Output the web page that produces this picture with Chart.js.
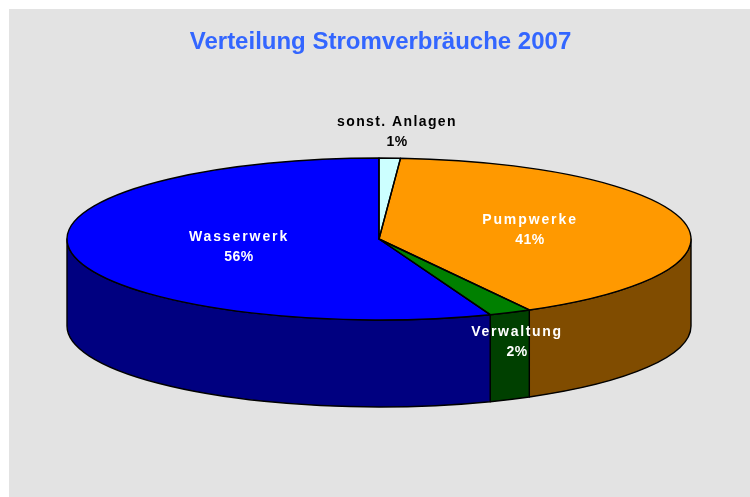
<!DOCTYPE html>
<html>
<head>
<meta charset="utf-8">
<style>html,body{margin:0;padding:0;background:#fff}canvas{display:block}</style>
<script src="https://cdn.jsdelivr.net/npm/chart.js@4"></script>
</head>
<body>
<canvas id="c" width="750" height="497"></canvas>
<script>
const categories = ['sonst. Anlagen', 'Pumpwerke', 'Verwaltung', 'Wasserwerk'];
const shares = [1.1, 40.9, 2.2, 55.8];
const topColors = ['#CCFFFF', '#FF9900', '#008000', '#0000FF'];
const sideColors = ['#668080', '#804C00', '#004000', '#000080'];
const labelColors = ['#000000', '#FFFFFF', '#FFFFFF', '#FFFFFF'];
const labelSpacing = ['1.4px', '1.9px', '1.7px', '1.9px'];
const labelAnchors = [[397, 122], [530, 220], [517, 332], [239, 237]];
const titleText = 'Verteilung Stromverbräuche 2007';

const CX = 379, CY = 239, RX = 312, RY = 81, DEPTH = 87;

const pie3d = {
  id: 'pie3d',
  beforeDraw(chart) {
    const ctx = chart.ctx;
    ctx.save();
    ctx.fillStyle = '#E3E3E3';
    ctx.fillRect(9, 9, chart.width - 9, chart.height - 9);
    ctx.restore();
  },
  beforeDatasetsDraw(chart) {
    const ctx = chart.ctx;
    const arcs = chart.getDatasetMeta(0).data;
    ctx.save();
    ctx.lineWidth = 1.4;
    ctx.strokeStyle = '#000';
    ctx.lineJoin = 'round';
    arcs.forEach((arc, i) => {
      const p = arc.getProps(['startAngle', 'endAngle'], true);
      const a0 = Math.max(p.startAngle, 0), a1 = Math.min(p.endAngle, Math.PI);
      if (a1 <= a0) return;
      ctx.beginPath();
      ctx.ellipse(CX, CY, RX, RY, 0, a0, a1);
      ctx.ellipse(CX, CY + DEPTH, RX, RY, 0, a1, a0, true);
      ctx.closePath();
      ctx.fillStyle = sideColors[i];
      ctx.fill();
      ctx.stroke();
    });
    ctx.restore();
    const first = arcs[0].getProps(['x', 'y', 'outerRadius'], true);
    ctx.save();
    ctx.translate(CX, CY);
    ctx.scale(RX / first.outerRadius, RY / first.outerRadius);
    ctx.translate(-first.x, -first.y);
  },
  afterDatasetsDraw(chart) {
    const ctx = chart.ctx;
    const arcs = chart.getDatasetMeta(0).data;
    ctx.restore();
    ctx.save();
    ctx.lineWidth = 1.4;
    ctx.strokeStyle = '#000';
    ctx.lineJoin = 'round';
    arcs.forEach((arc) => {
      const p = arc.getProps(['startAngle', 'endAngle'], true);
      ctx.beginPath();
      ctx.moveTo(CX, CY);
      ctx.ellipse(CX, CY, RX, RY, 0, p.startAngle, p.endAngle);
      ctx.closePath();
      ctx.stroke();
    });
    ctx.font = 'bold 14px "Liberation Sans", Arial, sans-serif';
    ctx.textAlign = 'center';
    ctx.textBaseline = 'middle';
    categories.forEach((name, i) => {
      ctx.fillStyle = labelColors[i];
      ctx.letterSpacing = labelSpacing[i];
      ctx.fillText(name, labelAnchors[i][0], labelAnchors[i][1]);
      ctx.letterSpacing = '0.5px';
      ctx.fillText(Math.round(shares[i]) + '%', labelAnchors[i][0], labelAnchors[i][1] + 20.5);
    });
    ctx.restore();
  }
};

new Chart(document.getElementById('c'), {
  type: 'pie',
  data: {
    labels: categories,
    datasets: [{
      data: shares,
      backgroundColor: topColors,
      borderWidth: 0,
      clip: false
    }]
  },
  options: {
    responsive: false,
    animation: false,
    rotation: 0,
    layout: { padding: { left: 11, top: 14, right: 0, bottom: 0 } },
    plugins: {
      legend: { display: false },
      tooltip: { enabled: false },
      title: {
        display: true,
        text: titleText,
        color: '#3366FF',
        font: { family: '"Liberation Sans", Arial, sans-serif', size: 24, weight: 'bold' },
        padding: { top: 14, bottom: 10 }
      }
    }
  },
  plugins: [pie3d]
});
</script>
</body>
</html>
